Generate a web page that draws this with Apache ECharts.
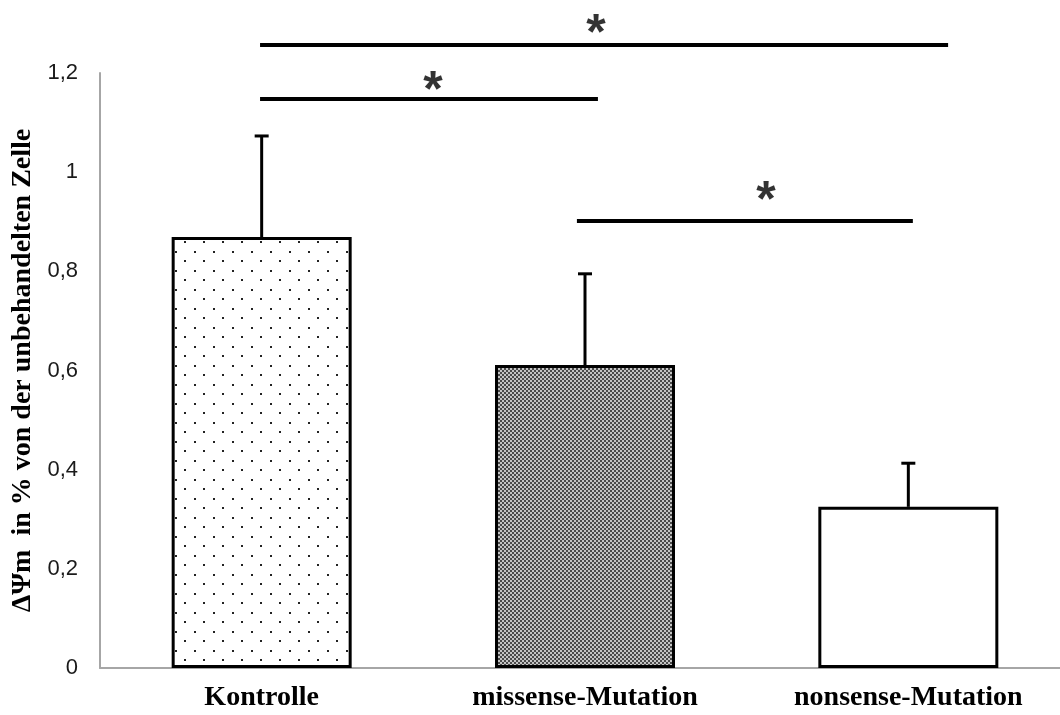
<!DOCTYPE html>
<html><head><meta charset="utf-8">
<script src="https://cdn.jsdelivr.net/npm/echarts@6/dist/echarts.min.js"></script>
<style>html,body{margin:0;padding:0;background:#fff}#c{width:1060px;height:715px}</style>
</head><body><div id="c"></div>
<script>
// ---- data ----
const categories = ['Kontrolle', 'missense-Mutation', 'nonsense-Mutation'];
const means = [0.869, 0.611, 0.325];
const upperErr = [1.073, 0.795, 0.413];
const yTicks = ['0', '0,2', '0,4', '0,6', '0,8', '1', '1,2'];
// significance brackets: [xStart, xEnd, y] in (category-position, value) units
const sigLines = [[0.495, 2.623, 1.2565], [0.495, 1.540, 1.1476], [1.475, 2.514, 0.9015]];
const sigStars = [[1.534, 1.2948], [1.030, 1.1798], [2.060, 0.958]];
const yName = 'ΔΨm  in % von der unbehandelten Zelle';

// ---- patterns ----
function dotPattern() {
  const c = document.createElement('canvas'); c.width = 19; c.height = 19;
  const g = c.getContext('2d'); g.fillStyle = '#fff'; g.fillRect(0, 0, 19, 19);
  g.fillStyle = '#222';
  g.fillRect(4, 4, 2, 2); g.fillRect(13, 13, 2, 2);
  return c;
}
function checkPattern() {
  const c = document.createElement('canvas'); c.width = 4; c.height = 4;
  const g = c.getContext('2d'); g.fillStyle = '#c4c4c4'; g.fillRect(0, 0, 4, 4);
  g.fillStyle = '#4a4a4a'; g.fillRect(0, 0, 2, 2); g.fillRect(2, 2, 2, 2);
  return c;
}
const fills = [
  { image: dotPattern(), repeat: 'repeat' },
  { image: checkPattern(), repeat: 'repeat' },
  '#ffffff'
];

const chart = echarts.init(document.getElementById('c'));
const serif = '"Liberation Serif", "Times New Roman", serif';
const sans = '"Liberation Sans", Arial, sans-serif';

chart.setOption({
  animation: false,
  backgroundColor: '#fff',
  grid: { left: 100, width: 970, top: 73, height: 595, containLabel: false, outerBoundsMode: 'none' },
  xAxis: [{
    type: 'category', data: categories,
    axisLine: { lineStyle: { color: '#a6a6a6', width: 2 } },
    axisTick: { show: false },
    axisLabel: { margin: 16, color: '#000', fontFamily: serif, fontWeight: 'bold', fontSize: 28 }
  }, {
    type: 'value', min: 0, max: 3, show: false
  }],
  yAxis: {
    type: 'value', min: 0, max: 1.2, interval: 0.2,
    name: yName, nameLocation: 'middle', nameGap: 62, nameRotate: 90,
    nameTextStyle: { color: '#000', fontFamily: serif, fontWeight: 'bold', fontSize: 28 },
    axisLine: { show: true, lineStyle: { color: '#a6a6a6', width: 2 } },
    axisTick: { show: false },
    splitLine: { show: false },
    axisLabel: {
      margin: 22, color: '#1a1a1a', fontFamily: sans, fontSize: 22,
      formatter: (v) => yTicks[Math.round(v / 0.2)]
    }
  },
  series: [
    {
      type: 'bar', barWidth: 180, z: 2,
      data: means.map((m, i) => ({ value: m, itemStyle: { color: fills[i], borderColor: '#000', borderWidth: 3 } }))
    },
    {
      type: 'custom', z: 3,
      data: means.map((m, i) => [i, m, upperErr[i]]),
      encode: { x: 0, y: [1, 2] },
      renderItem: function (params, api) {
        const p0 = api.coord([api.value(0), api.value(1)]);
        const p1 = api.coord([api.value(0), api.value(2)]);
        const st = { stroke: '#000', lineWidth: 3 };
        return {
          type: 'group', children: [
            { type: 'line', shape: { x1: p0[0], y1: p0[1], x2: p1[0], y2: p1[1] }, style: st },
            { type: 'line', shape: { x1: p1[0] - 7, y1: p1[1], x2: p1[0] + 7, y2: p1[1] }, style: st }
          ]
        };
      }
    },
    ...sigLines.map(l => ({
      type: 'line', xAxisIndex: 1, clip: false, symbol: 'none', z: 4,
      lineStyle: { color: '#000', width: 4 },
      data: [[l[0], l[2]], [l[1], l[2]]]
    })),
    {
      type: 'scatter', xAxisIndex: 1, clip: false, symbolSize: 0, z: 5,
      data: sigStars,
      label: {
        show: true, position: 'top', distance: 0, offset: [0, 34],
        formatter: '*', color: '#000', fontFamily: sans, fontWeight: 'bold', fontSize: 50
      }
    }
  ]
});
</script></body></html>
